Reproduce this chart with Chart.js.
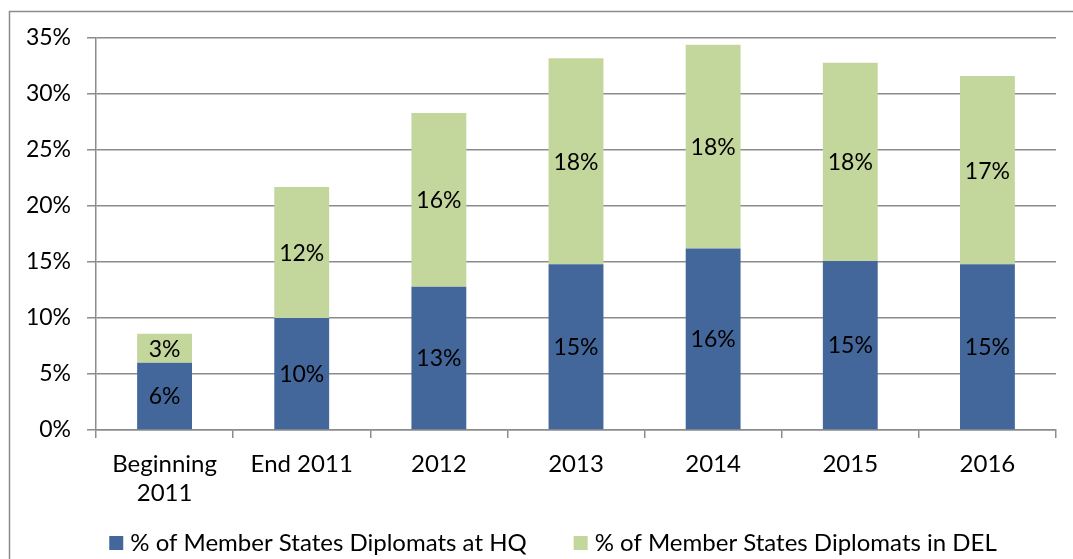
<!DOCTYPE html>
<html>
<head>
<meta charset="utf-8">
<script src="https://cdn.jsdelivr.net/npm/chart.js@4"></script>
<style>
html,body{margin:0;padding:0;background:#fff;}
#wrap{position:relative;width:1073px;height:559px;}
</style>
</head>
<body>
<div id="wrap"><canvas id="c" width="1073" height="559"></canvas></div>
<script>
const categories = [["Beginning", "2011"], "End 2011", "2012", "2013", "2014", "2015", "2016"];
const hqValues = [6.0, 10.0, 12.8, 14.8, 16.2, 15.1, 14.8];
const delValues = [2.6, 11.7, 15.5, 18.4, 18.2, 17.7, 16.8];
const seriesNames = ["% of Member States Diplomats at HQ", "% of Member States Diplomats in DEL"];
const yTicks = [0, 5, 10, 15, 20, 25, 30, 35];

const FONT = "Lato, 'Open Sans', sans-serif";
const FS = 23;
const LFS = 24;
const GRID = "#8c8c8c";
const COLORS = ["#44679b", "#c3d69b"];

const frame = {
  id: 'frame',
  afterDraw(chart) {
    const ctx = chart.ctx;
    ctx.save();
    ctx.strokeStyle = GRID;
    ctx.lineWidth = 1.5;
    ctx.beginPath();
    ctx.moveTo(9.5, 559);
    ctx.lineTo(9.5, 11.5);
    ctx.lineTo(1073, 11.5);
    ctx.stroke();
    ctx.restore();
  }
};

const legendPlugin = {
  id: 'customLegend',
  afterDraw(chart) {
    const ctx = chart.ctx;
    ctx.save();
    ctx.font = LFS + "px " + FONT;
    ctx.textBaseline = "middle";
    ctx.textAlign = "left";
    const box = 14, gapText = 7, gapItem = 47, cy = 543, center = 553;
    const items = chart.data.datasets.map(d => ({ text: d.label, color: d.backgroundColor, w: ctx.measureText(d.label).width }));
    let total = 0;
    items.forEach((it, i) => { total += box + gapText + it.w + (i ? gapItem : 0); });
    let x = center - total / 2;
    items.forEach((it, i) => {
      if (i) x += gapItem;
      ctx.fillStyle = it.color;
      ctx.fillRect(x, cy - box / 2, box, box);
      x += box + gapText;
      ctx.fillStyle = "#000";
      ctx.fillText(it.text, x, cy);
      x += it.w;
    });
    ctx.restore();
  }
};

const labels = {
  id: 'labels',
  afterDatasetsDraw(chart) {
    const ctx = chart.ctx;
    ctx.save();
    ctx.font = FS + "px " + FONT;
    ctx.fillStyle = "#000";
    ctx.textAlign = "center";
    ctx.textBaseline = "middle";
    chart.data.datasets.forEach((ds, i) => {
      chart.getDatasetMeta(i).data.forEach((el, j) => {
        const p = el.getProps(['x', 'y', 'base'], true);
        ctx.fillText(Math.round(ds.data[j]) + "%", p.x, (p.y + p.base) / 2 + 1);
      });
    });
    ctx.restore();
  }
};

new Chart(document.getElementById('c'), {
  type: 'bar',
  data: {
    labels: categories,
    datasets: [
      { label: seriesNames[0], data: hqValues, backgroundColor: COLORS[0], barPercentage: 0.4, categoryPercentage: 1 },
      { label: seriesNames[1], data: delValues, backgroundColor: COLORS[1], barPercentage: 0.4, categoryPercentage: 1 }
    ]
  },
  options: {
    responsive: false,
    animation: false,
    layout: { padding: { left: 0, top: 38, right: 17, bottom: 0 } },
    plugins: {
      legend: { display: false },
      tooltip: { enabled: false }
    },
    scales: {
      x: {
        stacked: true,
        grid: { display: true, drawOnChartArea: false, offset: true, color: GRID, lineWidth: 1.5, tickLength: 8 },
        border: { color: GRID, width: 1.5 },
        ticks: { font: { family: FONT, size: LFS }, color: "#000", maxRotation: 0, padding: 12 },
        afterFit(s) { s.height = 559 - 430; }
      },
      y: {
        stacked: true,
        min: 0, max: 35,
        afterBuildTicks(s) { s.ticks = yTicks.map(v => ({ value: v })); },
        grid: { color: GRID, lineWidth: 1.5, tickLength: 9 },
        border: { color: GRID, width: 1.5 },
        ticks: { font: { family: FONT, size: FS }, color: "#000", padding: 16, callback: v => v + "%" },
        afterFit(s) { s.width = 96; }
      }
    }
  },
  plugins: [frame, labels, legendPlugin]
});
</script>
</body>
</html>
